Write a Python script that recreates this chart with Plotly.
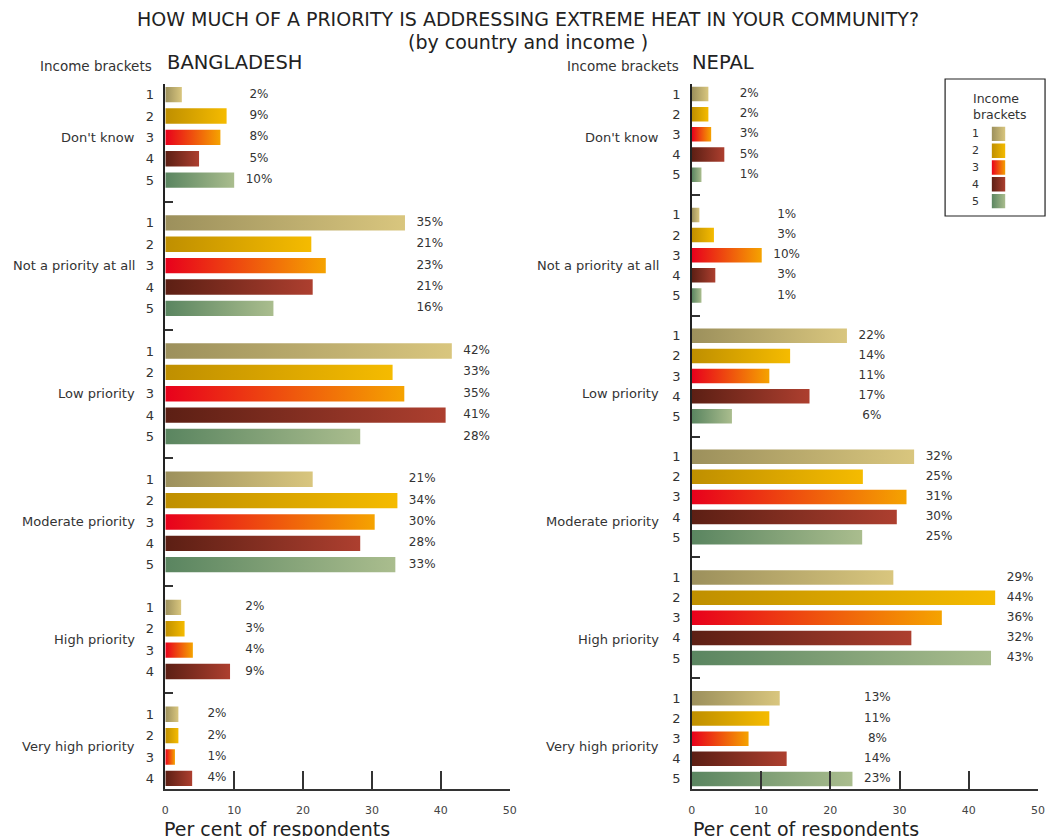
import plotly.graph_objects as go

# ---------------- data ----------------
categories = ["Don't know", "Not a priority at all", "Low priority",
              "Moderate priority", "High priority", "Very high priority"]
brackets = ["1", "2", "3", "4", "5"]

bd_dont_know = [2.4, 8.9, 8.0, 4.9, 10.0]
bd_not_priority = [34.8, 21.2, 23.3, 21.4, 15.7]
bd_low = [41.6, 33.0, 34.7, 40.7, 28.3]
bd_moderate = [21.4, 33.7, 30.4, 28.3, 33.4]
bd_high = [2.3, 2.8, 4.0, 9.4]
bd_very_high = [1.9, 1.9, 1.4, 3.9]

np_dont_know = [2.4, 2.4, 2.8, 4.7, 1.4]
np_not_priority = [1.1, 3.2, 10.1, 3.4, 1.4]
np_low = [22.4, 14.2, 11.2, 17.0, 5.8]
np_moderate = [32.1, 24.7, 31.0, 29.6, 24.6]
np_high = [29.1, 43.8, 36.1, 31.7, 43.2]
np_very_high = [12.7, 11.2, 8.2, 13.7, 23.2]

bd_groups = [bd_dont_know, bd_not_priority, bd_low, bd_moderate, bd_high, bd_very_high]
np_groups = [np_dont_know, np_not_priority, np_low, np_moderate, np_high, np_very_high]

# gradient colours per income bracket (left -> right)
grad_left = ["#9c905c", "#bf8f00", "#e8001c", "#5c1f14", "#5a8560"]
grad_right = ["#d9c67e", "#f5bb00", "#f5a300", "#ad3f2f", "#aabd8e"]

FONT = "DejaVu Sans"
TXT = "#333333"
W, H = 1056, 836

fig = go.Figure()


def px_x(p):
    return p / W


def px_y(p):
    return 1 - p / H


def layout_slots(groups):
    bar_slots, div_slots, centers = [], [], []
    s = 0
    for gi, g in enumerate(groups):
        slots = []
        for _ in g:
            slots.append(s)
            s += 1
        bar_slots.append(slots)
        centers.append((slots[0] + slots[-1]) / 2)
        if gi < len(groups) - 1:
            div_slots.append(s)
            s += 1
    return bar_slots, div_slots, centers, s


def add_panel(groups, xa, ya):
    bar_slots, div_slots, centers, n = layout_slots(groups)
    h = 0.36
    tickvals, ticktext = [], []
    for g, slots in zip(groups, bar_slots):
        for bi, (v, s) in enumerate(zip(g, slots)):
            fig.add_trace(go.Scatter(
                x=[0, v, v, 0, 0], y=[s - h, s - h, s + h, s + h, s - h],
                mode="lines", fill="toself",
                line=dict(width=0, color="rgba(0,0,0,0)"),
                fillgradient=dict(type="horizontal",
                                  colorscale=[[0, grad_left[bi]], [1, grad_right[bi]]]),
                xaxis=xa, yaxis=ya, hoverinfo="skip", showlegend=False))
            tickvals.append(s)
            ticktext.append(brackets[bi])
        tx = max(g) + 3.6
        fig.add_trace(go.Scatter(
            x=[tx] * len(g), y=slots, mode="text",
            text=[f"{round(v)}%" for v in g], textposition="middle center",
            textfont=dict(family=FONT, size=12, color=TXT),
            xaxis=xa, yaxis=ya, hoverinfo="skip", showlegend=False, cliponaxis=False))
    return tickvals, ticktext, div_slots, centers, n


bd_tv, bd_tt, bd_div, bd_centers, bd_n = add_panel(bd_groups, "x", "y")
np_tv, np_tt, np_div, np_centers, np_n = add_panel(np_groups, "x2", "y2")

# legend swatches on their own small axes
for i in range(len(brackets)):
    fig.add_trace(go.Scatter(
        x=[0, 1, 1, 0, 0], y=[i - 0.43, i - 0.43, i + 0.43, i + 0.43, i - 0.43],
        mode="lines", fill="toself", line=dict(width=0, color="rgba(0,0,0,0)"),
        fillgradient=dict(type="horizontal",
                          colorscale=[[0, grad_left[i]], [1, grad_right[i]]]),
        xaxis="x3", yaxis="y3", hoverinfo="skip", showlegend=False))

ydom = [px_y(789), px_y(84)]


def xaxis_cfg(domain, anchor):
    return dict(domain=domain, anchor=anchor, range=[0, 50],
                tickvals=[0, 10, 20, 30, 40, 50], ticks="inside", ticklen=18,
                tickwidth=1.5, tickcolor="#333", showline=True, linecolor="#333",
                linewidth=1.5, showgrid=False, zeroline=False,
                ticklabelstandoff=10,
                tickfont=dict(family=FONT, size=11, color="#444"), fixedrange=True)


def yaxis_cfg(anchor, n, tv, tt, div):
    return dict(domain=ydom, anchor=anchor, range=[n - 0.5, -0.5],
                tickmode="array", tickvals=tv, ticktext=tt, ticks="",
                showline=True, linecolor="#222", linewidth=1.5, showgrid=False,
                zeroline=False, ticklabelstandoff=7,
                tickfont=dict(family=FONT, size=13, color=TXT),
                minor=dict(tickmode="array", tickvals=div, ticks="inside",
                           ticklen=8, tickwidth=1.5, tickcolor="#333", showgrid=False),
                fixedrange=True)


annotations = []
# title
annotations.append(dict(text="HOW MUCH OF A PRIORITY IS ADDRESSING EXTREME HEAT IN YOUR COMMUNITY?",
                        x=px_x(530), y=px_y(19), xref="paper", yref="paper",
                        showarrow=False, xanchor="center", yanchor="middle",
                        font=dict(family=FONT, size=19, color="#222")))
annotations.append(dict(text="(by country and income )",
                        x=px_x(530), y=px_y(42), xref="paper", yref="paper",
                        showarrow=False, xanchor="center", yanchor="middle",
                        font=dict(family=FONT, size=19, color="#222")))
# panel headers
for name, xl, xr in [("BANGLADESH", 163, 152), ("NEPAL", 693, 684)]:
    annotations.append(dict(text=name, x=px_x(xl), y=px_y(62), xref="paper", yref="paper",
                            showarrow=False, xanchor="left", yanchor="middle",
                            font=dict(family=FONT, size=19.5, color="#222")))
    annotations.append(dict(text="Income brackets", x=px_x(xr), y=px_y(66), xref="paper",
                            yref="paper", showarrow=False, xanchor="right", yanchor="middle",
                            font=dict(family=FONT, size=13.5, color=TXT)))
# group labels (both panels share vertical positions)
for cat, c in zip(categories, bd_centers):
    for xr in (134, 664):
        annotations.append(dict(text=cat, x=px_x(xr), y=c, xref="paper", yref="y",
                                showarrow=False, xanchor="right", yanchor="middle",
                                font=dict(family=FONT, size=13, color=TXT)))
# axis titles
for xl in (160, 694):
    annotations.append(dict(text="Per cent of respondents", x=px_x(xl), y=px_y(829),
                            xref="paper", yref="paper", showarrow=False,
                            xanchor="left", yanchor="middle",
                            font=dict(family=FONT, size=19, color="#222")))
# legend texts
annotations.append(dict(text="Income<br>brackets", x=px_x(977), y=px_y(89), xref="paper",
                        yref="paper", showarrow=False, xanchor="left", yanchor="top",
                        align="left", font=dict(family=FONT, size=12.5, color=TXT)))
for i, b in enumerate(brackets):
    annotations.append(dict(text=b, x=px_x(982), y=i, xref="paper", yref="y3",
                            showarrow=False, xanchor="center", yanchor="middle",
                            font=dict(family=FONT, size=11, color=TXT)))

shapes = [dict(type="rect", xref="paper", yref="paper", x0=px_x(951), x1=px_x(1052),
               y0=px_y(216), y1=px_y(79), line=dict(color="#222", width=1.2),
               fillcolor="white", layer="below")]

fig.update_layout(
    width=W, height=H, autosize=False,
    margin=dict(l=0, r=0, t=0, b=0),
    paper_bgcolor="white", plot_bgcolor="rgba(0,0,0,0)",
    showlegend=False,
    xaxis=xaxis_cfg([px_x(163), px_x(511)], "y"),
    yaxis=yaxis_cfg("x", bd_n, bd_tv, bd_tt, bd_div),
    xaxis2=xaxis_cfg([px_x(695), px_x(1045)], "y2"),
    yaxis2=yaxis_cfg("x2", np_n, np_tv, np_tt, np_div),
    xaxis3=dict(domain=[px_x(998), px_x(1012)], anchor="y3", range=[0, 1], visible=False,
                fixedrange=True),
    yaxis3=dict(domain=[px_y(209.5), px_y(125.5)], anchor="x3", range=[4.5, -0.5],
                visible=False, fixedrange=True),
    annotations=annotations, shapes=shapes,
    font=dict(family=FONT, color=TXT),
)

fig.write_html("out.html")
